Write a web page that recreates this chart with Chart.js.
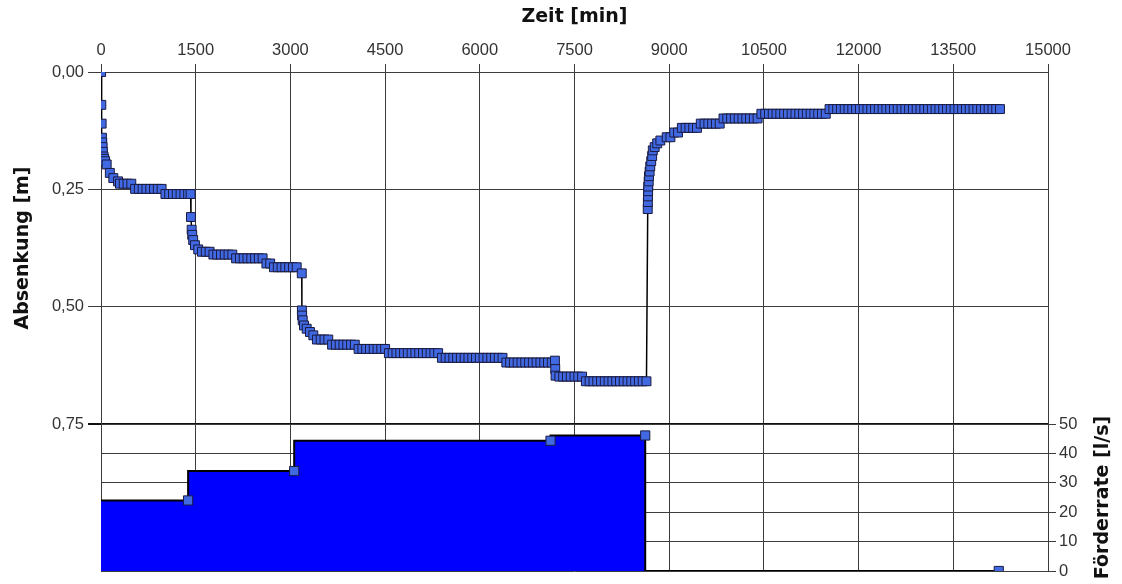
<!DOCTYPE html>
<html lang="de">
<head>
<meta charset="utf-8">
<title>Absenkung und Förderrate</title>
<script src="https://cdn.jsdelivr.net/npm/chart.js@4.4.1/dist/chart.umd.min.js"></script>
<style>
  html, body { margin: 0; padding: 0; background: #fff; }
  #wrap { width: 1122px; height: 584px; }
</style>
</head>
<body>
<div id="wrap"><canvas id="chart" width="1122" height="584"></canvas></div>
<script>
// Messzeitpunkte [min] der Absenkung
const zeitAbsenkung = [
  2, 5, 10, 15, 20, 25, 30, 40, 50, 65, 90, 140, 195, 270,
  300, 360, 420, 480,
  540, 600, 660, 720, 780, 840, 900, 960,
  1020, 1080, 1140, 1200, 1260, 1320, 1380, 1420,
  1425, 1436, 1445, 1460, 1488, 1540,
  1600, 1660, 1720,
  1780, 1840, 1900, 1960, 2020, 2080,
  2140, 2200, 2260, 2320, 2380, 2440, 2500, 2560,
  2620, 2680,
  2740, 2800, 2860, 2920, 2980, 3040, 3100,
  3180,
  3182, 3186, 3195, 3215, 3258, 3310, 3363,
  3420, 3480, 3540, 3600,
  3660, 3720, 3780, 3840, 3900, 3960, 4020,
  4080, 4140, 4200, 4260, 4320, 4380, 4440, 4500,
  4560, 4620, 4680, 4740, 4800, 4860, 4920, 4980, 5040, 5100, 5160, 5220, 5280, 5340,
  5400, 5460, 5520, 5580, 5640, 5700, 5760, 5820, 5880, 5940, 6000, 6060, 6120, 6180, 6240, 6300, 6360,
  6420, 6480, 6540, 6600, 6660, 6720, 6780, 6840, 6900, 6960, 7020, 7080, 7140,
  7190, 7195, 7200,
  7260, 7320, 7380, 7440, 7500, 7560, 7620,
  7680, 7740, 7800, 7860, 7920, 7980, 8040, 8100, 8160, 8220, 8280, 8340, 8400, 8460, 8520, 8580, 8640,
  8660, 8662, 8664, 8666, 8668, 8675, 8680, 8690, 8700, 8715, 8730, 8740, 8770, 8810, 8860,
  8960, 9020,
  9080, 9140,
  9200, 9260, 9320, 9380, 9440,
  9500, 9560, 9620, 9680, 9740, 9800,
  9860, 9920, 9980, 10040, 10100, 10160, 10220, 10280, 10340, 10400,
  10460, 10520, 10580, 10640, 10700, 10760, 10820, 10880, 10940, 11000, 11060, 11120, 11180, 11240, 11300, 11360, 11420, 11480,
  11540, 11600, 11660, 11720, 11780, 11840, 11900, 11960, 12020, 12080, 12140, 12200, 12260, 12320, 12380, 12440,
  12500, 12560, 12620, 12680, 12740, 12800, 12860, 12920, 12980, 13040, 13100, 13160, 13220, 13280, 13340, 13400,
  13460, 13520, 13580, 13640, 13700, 13760, 13820, 13880, 13940, 14000, 14060, 14120, 14180, 14240
]

// Absenkung [m]
const absenkung = [
  0.00, 0.07, 0.11, 0.14, 0.15, 0.16, 0.17, 0.18, 0.185, 0.19, 0.197, 0.215, 0.226, 0.233,
  0.238, 0.238, 0.238, 0.238,
  0.249, 0.249, 0.249, 0.249, 0.249, 0.249, 0.249, 0.249,
  0.26, 0.26, 0.26, 0.26, 0.26, 0.26, 0.26, 0.26,
  0.309, 0.336, 0.347, 0.358, 0.369, 0.378,
  0.383, 0.383, 0.383,
  0.389, 0.389, 0.389, 0.389, 0.389, 0.389,
  0.397, 0.397, 0.397, 0.397, 0.397, 0.397, 0.397, 0.397,
  0.408, 0.408,
  0.416, 0.416, 0.416, 0.416, 0.416, 0.416, 0.416,
  0.429,
  0.508, 0.519, 0.529, 0.540, 0.547, 0.554, 0.561,
  0.570, 0.570, 0.570, 0.570,
  0.581, 0.581, 0.581, 0.581, 0.581, 0.581, 0.581,
  0.590, 0.590, 0.590, 0.590, 0.590, 0.590, 0.590, 0.590,
  0.599, 0.599, 0.599, 0.599, 0.599, 0.599, 0.599, 0.599, 0.599, 0.599, 0.599, 0.599, 0.599, 0.599,
  0.609, 0.609, 0.609, 0.609, 0.609, 0.609, 0.609, 0.609, 0.609, 0.609, 0.609, 0.609, 0.609, 0.609, 0.609, 0.609, 0.609,
  0.619, 0.619, 0.619, 0.619, 0.619, 0.619, 0.619, 0.619, 0.619, 0.619, 0.619, 0.619, 0.619,
  0.615, 0.633, 0.647,
  0.649, 0.649, 0.649, 0.649, 0.649, 0.649, 0.649,
  0.659, 0.659, 0.659, 0.659, 0.659, 0.659, 0.659, 0.659, 0.659, 0.659, 0.659, 0.659, 0.659, 0.659, 0.659, 0.659, 0.659,
  0.292, 0.277, 0.265, 0.254, 0.244, 0.233, 0.222, 0.212, 0.201, 0.190, 0.179, 0.167, 0.160, 0.152, 0.146,
  0.139, 0.139,
  0.129, 0.129,
  0.119, 0.119, 0.119, 0.119, 0.119,
  0.110, 0.110, 0.110, 0.110, 0.110, 0.110,
  0.099, 0.099, 0.099, 0.099, 0.099, 0.099, 0.099, 0.099, 0.099, 0.099,
  0.089, 0.089, 0.089, 0.089, 0.089, 0.089, 0.089, 0.089, 0.089, 0.089, 0.089, 0.089, 0.089, 0.089, 0.089, 0.089, 0.089, 0.089,
  0.079, 0.079, 0.079, 0.079, 0.079, 0.079, 0.079, 0.079, 0.079, 0.079, 0.079, 0.079, 0.079, 0.079, 0.079, 0.079,
  0.079, 0.079, 0.079, 0.079, 0.079, 0.079, 0.079, 0.079, 0.079, 0.079, 0.079, 0.079, 0.079, 0.079, 0.079, 0.079,
  0.079, 0.079, 0.079, 0.079, 0.079, 0.079, 0.079, 0.079, 0.079, 0.079, 0.079, 0.079, 0.079, 0.079
]

// Förderrate [l/s], Stufen (Wert gilt bis zum Zeitpunkt)
const zeitFoerder = [0, 1380, 3060, 7120, 8620, 14220]
const foerderrate = [24, 24, 34, 44.3, 46.1, 0]

// Achsenbeschriftungen
const zeitTicks = [0, 1500, 3000, 4500, 6000, 7500, 9000, 10500, 12000, 13500, 15000]
const absenkungTicks = [0, 0.25, 0.5, 0.75]
const foerderTicks = [0, 10, 20, 30, 40, 50]

const gitterFarbe = "#3c3c3c"
const tickFont = { family: "'Liberation Sans', Arial, sans-serif", size: 16.5 }

const achsenTitel = {
  id: "achsenTitel",
  afterDraw(chart) {
    const { ctx, chartArea, scales } = chart
    ctx.save()
    ctx.fillStyle = "#111"
    ctx.font = "bold 19px 'DejaVu Sans', sans-serif"
    ctx.textAlign = "center"
    ctx.textBaseline = "middle"
    ctx.fillText("Zeit [min]", (chartArea.left + chartArea.right) / 2, 17)

    const yMitte = (scales.y.getPixelForValue(0) + scales.y.getPixelForValue(0.75)) / 2
    ctx.save()
    ctx.translate(23, yMitte)
    ctx.rotate(-Math.PI / 2)
    ctx.fillText("Absenkung [m]", 0, 0)
    ctx.restore()

    const y2Mitte = (scales.y2.getPixelForValue(0) + scales.y2.getPixelForValue(50)) / 2
    ctx.translate(1103, y2Mitte)
    ctx.rotate(-Math.PI / 2)
    ctx.fillText("Förderrate [l/s]", 0, 0)
    ctx.restore()
  }
}

const punkteAbsenkung = zeitAbsenkung.map((t, i) => ({ x: t, y: absenkung[i] }))
const punkteFoerder = zeitFoerder.map((t, i) => ({ x: t, y: foerderrate[i] }))

new Chart(document.getElementById("chart"), {
  type: "line",
  data: {
    datasets: [
      {
        label: "Absenkung",
        data: punkteAbsenkung,
        xAxisID: "x",
        yAxisID: "y",
        borderColor: "#000",
        borderWidth: 1.5,
        tension: 0,
        fill: false,
        pointStyle: "rect",
        pointRadius: 6.3,
        pointBackgroundColor: "#4169e1",
        pointBorderColor: "#1a1a40",
        pointBorderWidth: 1
      },
      {
        label: "Förderrate",
        data: punkteFoerder,
        xAxisID: "x",
        yAxisID: "y2",
        stepped: "after",
        borderColor: "#000",
        borderWidth: 2,
        backgroundColor: "#0000ff",
        fill: "origin",
        pointStyle: "rect",
        pointRadius: [0, 6.5, 6.5, 6.5, 6.5, 6.5],
        pointBackgroundColor: "#4169e1",
        pointBorderColor: "#1a1a40",
        pointBorderWidth: 1
      }
    ]
  },
  options: {
    responsive: false,
    devicePixelRatio: 1,
    animation: false,
    events: [],
    layout: { padding: { top: 0, left: 0, right: 0, bottom: 13 } },
    plugins: {
      legend: { display: false },
      tooltip: { enabled: false }
    },
    scales: {
      x: {
        type: "linear",
        position: "top",
        min: 0,
        max: 15000,
        afterBuildTicks: s => { s.ticks = zeitTicks.map(v => ({ value: v })) },
        afterFit: s => { s.height = 72 },
        ticks: { color: "#333", font: tickFont, padding: 4, maxRotation: 0, callback: v => String(v) },
        grid: { color: gitterFarbe, lineWidth: 1, tickLength: 8 },
        border: { display: true, color: gitterFarbe, width: 1 }
      },
      y: {
        type: "linear",
        position: "left",
        reverse: true,
        min: 0,
        max: 1.0632,
        afterBuildTicks: s => { s.ticks = absenkungTicks.map(v => ({ value: v })) },
        afterFit: s => { s.width = 101; s.paddingTop = 0; s.paddingBottom = 0 },
        ticks: { color: "#333", font: tickFont, padding: 4, callback: v => v.toFixed(2).replace(".", ",") },
        grid: {
          color: c => (c.tick && c.tick.value === 0.75 ? "#111" : gitterFarbe),
          lineWidth: c => (c.tick && c.tick.value === 0.75 ? 2 : 1),
          tickLength: 13
        },
        border: { display: true, color: gitterFarbe, width: 1 }
      },
      y2: {
        type: "linear",
        position: "right",
        min: 0,
        max: 169.73,
        afterBuildTicks: s => { s.ticks = foerderTicks.map(v => ({ value: v })) },
        afterFit: s => { s.width = 74; s.paddingTop = 0; s.paddingBottom = 0 },
        ticks: { color: "#333", font: tickFont, padding: 3, callback: v => String(v) },
        grid: { color: gitterFarbe, lineWidth: 1, tickLength: 8 },
        border: { display: true, color: gitterFarbe, width: 1 }
      }
    }
  },
  plugins: [achsenTitel]
})
</script>
</body>
</html>
